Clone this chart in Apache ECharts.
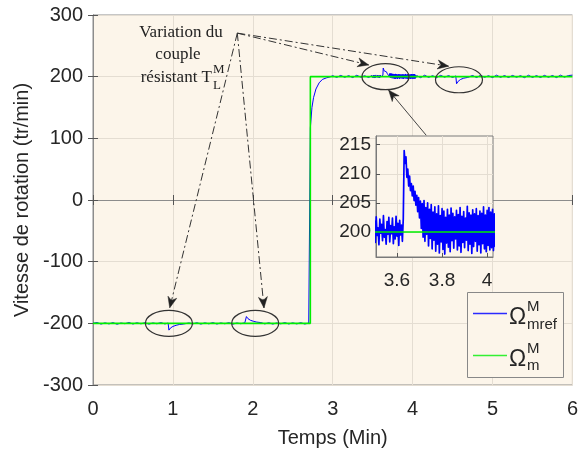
<!DOCTYPE html>
<html><head><meta charset="utf-8">
<script src="https://cdn.jsdelivr.net/npm/echarts@6/dist/echarts.min.js"></script>
<style>html,body{margin:0;padding:0;background:#fff}#c{width:581px;height:455px}</style>
</head><body><div id="c"></div>
<script>
// ---------- data ----------
const xTicksMain = [0,1,2,3,4,5,6];
const yTicksMain = [-300,-200,-100,0,100,200,300];
const xTicksInset = [3.6,3.8,4];
const yTicksInset = [200,205,210,215];

// reference speed Ω_m (green)
const greenRef = [[0,-200],[2.72,-200],[2.72,200],[6,200]];

// measured speed Ω_mref (blue), before the zoomed window
const blueStart = [[0,-200],[0.05,-198.8],[0.1,-201.2],[0.15,-199.3],[0.2,-200.9],[0.25,-198.9],[0.3,-201.4],[0.35,-199.5],[0.4,-200.6],[0.45,-198.7],[0.5,-201.1],[0.55,-199.2],[0.6,-200.8],[0.65,-199.0],[0.7,-201.3],[0.75,-199.4],[0.8,-200.7],[0.85,-198.9],[0.9,-201.0],[0.94,-199.6],[0.95,-211.0],[0.97,-207.5],[1.0,-205.0],[1.04,-203.2],[1.08,-201.9],[1.13,-201.2],[1.2,-199.4],[1.25,-200.9],[1.3,-199.1],[1.35,-201.2],[1.4,-199.3],[1.45,-200.8],[1.5,-198.9],[1.55,-201.1],[1.6,-199.4],[1.65,-200.7],[1.7,-199.0],[1.75,-201.3],[1.8,-199.5],[1.85,-200.6],[1.9,-199.2],[1.91,-200.3],[1.92,-189.0],[1.94,-192.5],[1.97,-195.0],[2.01,-196.8],[2.05,-198.0],[2.1,-198.8],[2.15,-200.9],[2.2,-199.1],[2.25,-201.2],[2.3,-199.4],[2.35,-200.8],[2.4,-198.9],[2.45,-201.0],[2.5,-199.3],[2.55,-200.9],[2.6,-199.0],[2.65,-201.1],[2.7,-199.6],[2.72,-200],[2.7201,117],[2.74,150],[2.76,166],[2.79,180],[2.83,190],[2.87,195.5],[2.92,198],[2.97,199.8],[3.0,201.5],[3.05,198.9],[3.1,202.0],[3.15,199.0],[3.2,201.6],[3.25,198.6],[3.3,202.2],[3.35,199.2],[3.4,201.4],[3.45,198.7],[3.49,201.9]];

// measured speed in the zoomed window, sampled every 0.004 from t=3.5
const blueDenseT0 = 3.5, blueDenseStep = 0.004;
const blueDense = [201.9,198.2,202.6,199.4,200.7,197.8,202.2,199.8,201.3,198.5,202.8,199.1,200.4,197.9,201.8,199.6,202.5,198.3,201.1,199.7,202.4,198.0,200.9,198.8,202.7,199.3,201.5,197.7,202.0,199.5,201.2,198.4,202.3,
214.0,
211.8,212.9,209.4,210.8,207.9,209.6,207.1,208.3,206.2,207.9,
205.4,207.0,204.6,206.3,203.5,205.9,202.4,205.3,200.6,204.9,
199.1,205.4,198.4,204.2,199.6,205.0,197.6,203.9,198.9,204.7,
197.1,203.4,198.6,204.3,196.7,203.1,197.9,204.5,196.4,202.8,
198.3,204.0,197.0,203.6,196.2,202.5,198.1,203.9,197.4,202.9,
196.6,204.1,198.5,203.2,197.2,202.6,198.8,203.7,196.9,203.0,
197.6,204.2,196.5,202.7,198.2,203.5,197.3,202.4,198.6,204.4,
196.8,203.3,197.9,202.9,196.3,203.8,197.5,203.1,198.4,204.0,
196.7,202.8,197.8,203.6,196.4,203.2,198.0,204.3,197.1,202.9,
196.6,203.7,197.7,204.2,196.9,203.4,197.3,203.9,196.8,203.1,197.5];

// measured speed after the zoomed window
const blueEnd = [[4.05,201.8],[4.1,198.4],[4.15,202.3],[4.2,198.9],[4.25,201.5],[4.3,198.5],[4.35,202.1],[4.4,199.2],[4.45,201.7],[4.5,198.7],[4.54,201.2],[4.55,188.5],[4.57,192.5],[4.6,195.5],[4.64,197.6],[4.69,198.8],[4.75,201.9],[4.8,198.6],[4.85,202.2],[4.9,199.0],[4.95,201.5],[5.0,198.5],[5.05,202.4],[5.1,198.9],[5.15,201.8],[5.2,198.6],[5.25,202.0],[5.3,199.1],[5.35,201.6],[5.4,198.4],[5.45,202.3],[5.5,198.8],[5.55,201.7],[5.6,198.6],[5.65,202.1],[5.7,199.0],[5.75,201.9],[5.8,198.5],[5.85,202.4],[5.9,199.2],[5.95,201.8],[6.0,202.5]];

// annotation anchors (data units)
const ellipseCenters = [[0.95,-200],[2.03,-200],[3.66,200],[4.58,195]];
const arrowOrigin = [1.806,270.6];
const arrowTips = [[0.96,-175],[2.14,-175],[3.45,219],[4.45,217]];
const solidArrow = [[4.17,105],[3.70,178]];

// ---------- build ----------
const blueAll = blueStart
  .concat(blueDense.map((v,i)=>[+(blueDenseT0 + i*blueDenseStep).toFixed(4), v]))
  .concat(blueEnd);

const FONT = "'Liberation Sans', Arial, Helvetica, sans-serif";
const SERIF = "'Liberation Serif', 'Times New Roman', serif";
const BG = '#fcf5ea';
const TXT = '#262626';
const BORDER = '#8c8c8c';
const BLUE = '#0000ff';
const GREEN = '#00ee00';

const chart = echarts.init(document.getElementById('c'), null, {renderer:'canvas'});

const mainAxisCommon = {
  axisLine:{show:true, lineStyle:{color:BORDER, width:1}},
  axisTick:{show:true, inside:true, length:5, lineStyle:{color:'#555'}},
};

chart.setOption({
  animation:false,
  backgroundColor:'#ffffff',
  grid:[
    {left:93, right:4, top:15, bottom:70, show:true, backgroundColor:BG, borderColor:BORDER, borderWidth:1, z:0},
    {left:376, top:136, width:117, height:121, show:true, backgroundColor:BG, borderColor:'#7a7a7a', borderWidth:1, z:10}
  ],
  xAxis:[
    Object.assign({gridIndex:0, type:'value', min:xTicksMain[0], max:xTicksMain[xTicksMain.length-1], interval:1,
      axisLabel:{fontSize:20, color:TXT, margin:14, fontFamily:FONT},
      splitLine:{show:true, lineStyle:{color:'#e4ddd2', width:1}},
      name:'Temps (Min)', nameLocation:'middle', nameGap:43,
      nameTextStyle:{fontSize:20, color:TXT, fontFamily:FONT}}, mainAxisCommon),
    Object.assign({gridIndex:0, type:'value', position:'top', min:xTicksMain[0], max:xTicksMain[xTicksMain.length-1], interval:1,
      axisLabel:{show:false}, splitLine:{show:false}}, mainAxisCommon),
    {gridIndex:1, type:'value', min:3.507, max:4.026, z:11,
      axisLine:{show:true, lineStyle:{color:'#7a7a7a'}},
      axisTick:{show:true, inside:true, length:4, customValues:xTicksInset, lineStyle:{color:'#555'}},
      axisLabel:{fontSize:19, color:TXT, margin:14, fontFamily:FONT, customValues:xTicksInset},
      splitLine:{show:true, lineStyle:{color:'#e4ddd2'}}}
  ],
  yAxis:[
    Object.assign({gridIndex:0, type:'value', min:yTicksMain[0], max:yTicksMain[yTicksMain.length-1], interval:100,
      axisLabel:{fontSize:20, color:TXT, margin:10, fontFamily:FONT},
      splitLine:{show:true, lineStyle:{color:'#e4ddd2', width:1}},
      name:'Vitesse de rotation (tr/min)', nameLocation:'middle', nameGap:60,
      nameTextStyle:{fontSize:20, color:TXT, fontFamily:FONT}}, mainAxisCommon),
    Object.assign({gridIndex:0, type:'value', position:'right', min:yTicksMain[0], max:yTicksMain[yTicksMain.length-1], interval:100,
      axisLabel:{show:false}, splitLine:{show:false}}, mainAxisCommon),
    {gridIndex:1, type:'value', min:195.7, max:216.5, z:11,
      axisLine:{show:true, lineStyle:{color:'#7a7a7a'}},
      axisTick:{show:true, inside:true, length:4, customValues:yTicksInset, lineStyle:{color:'#555'}},
      axisLabel:{fontSize:19, color:TXT, margin:5, fontFamily:FONT, customValues:yTicksInset},
      splitLine:{show:true, lineStyle:{color:'#e4ddd2'}}}
  ],
  series:[
    {name:'Ω mref', type:'line', xAxisIndex:0, yAxisIndex:0, data:blueAll, showSymbol:false, symbol:'none',
      lineStyle:{color:BLUE, width:1}, z:2},
    {name:'Ω m', type:'line', xAxisIndex:0, yAxisIndex:0, data:greenRef, showSymbol:false, symbol:'none',
      lineStyle:{color:GREEN, width:1.6}, z:3},
    {name:'Ω mref (zoom)', type:'line', xAxisIndex:2, yAxisIndex:2, data:blueAll, showSymbol:false, symbol:'none',
      lineStyle:{color:BLUE, width:1.7, join:'round'}, z:12},
    {name:'Ω m (zoom)', type:'line', xAxisIndex:2, yAxisIndex:2, data:greenRef, showSymbol:false, symbol:'none',
      lineStyle:{color:GREEN, width:1.6}, z:13}
  ]
});

// ---------- annotations ----------
const px = p => chart.convertToPixel({xAxisIndex:0, yAxisIndex:0}, p);
function arrowHead(tip, from, color){
  const dx = tip[0]-from[0], dy = tip[1]-from[1];
  const L = Math.hypot(dx,dy), ux = dx/L, uy = dy/L;
  const len = 11, hw = 4.5;
  const bx = tip[0]-ux*len, by = tip[1]-uy*len;
  const nx = tip[0]-ux*len*0.7, ny = tip[1]-uy*len*0.7;
  return {type:'polygon', z:50, shape:{points:[tip,[bx-uy*hw, by+ux*hw],[nx,ny],[bx+uy*hw, by-ux*hw]]},
    style:{fill:color, stroke:color, lineWidth:0.5}};
}
const g = [];
ellipseCenters.forEach(c=>{
  const p = px(c);
  g.push({type:'ellipse', z:40, shape:{cx:p[0], cy:p[1], rx:23.5, ry:13}, style:{fill:null, stroke:'#333', lineWidth:1.2}});
});
const o = px(arrowOrigin);
arrowTips.forEach(t=>{
  const p = px(t);
  g.push({type:'line', z:45, shape:{x1:o[0], y1:o[1], x2:p[0], y2:p[1]}, style:{stroke:'#333', lineWidth:1, lineDash:[8,3,2,3]}});
  g.push(arrowHead(p, o, '#222'));
});
const s0 = px(solidArrow[0]), s1 = px(solidArrow[1]);
g.push({type:'line', z:45, shape:{x1:s0[0], y1:s0[1], x2:s1[0], y2:s1[1]}, style:{stroke:'#444', lineWidth:1}});
g.push(arrowHead(s1, s0, '#222'));

// annotation text
g.push({type:'text', z:60, x:181, y:33, style:{text:'Variation du', font:'17px '+SERIF, fill:'#222', align:'center', verticalAlign:'middle'}});
g.push({type:'text', z:60, x:178, y:55, style:{text:'couple', font:'17px '+SERIF, fill:'#222', align:'center', verticalAlign:'middle'}});
g.push({type:'text', z:60, x:212, y:78, style:{text:'résistant T', font:'17px '+SERIF, fill:'#222', align:'right', verticalAlign:'middle'}});
g.push({type:'text', z:60, x:213, y:70, style:{text:'M', font:'13px '+SERIF, fill:'#222', align:'left', verticalAlign:'middle'}});
g.push({type:'text', z:60, x:213, y:86, style:{text:'L', font:'13px '+SERIF, fill:'#222', align:'left', verticalAlign:'middle'}});

// legend
g.push({type:'rect', z:70, shape:{x:467.5, y:292.5, width:96, height:85}, style:{fill:BG, stroke:'#888', lineWidth:1}});
g.push({type:'line', z:71, shape:{x1:473, y1:313.5, x2:507, y2:313.5}, style:{stroke:'#2a2aff', lineWidth:1.3}});
g.push({type:'line', z:71, shape:{x1:473, y1:355.5, x2:507, y2:355.5}, style:{stroke:'#33f033', lineWidth:1.6}});
[[318,'M','mref',307,325],[360,'M','m',349,366]].forEach(r=>{
  g.push({type:'text', z:72, x:509, y:r[0], style:{text:'Ω', font:'23px '+FONT, fill:TXT, align:'left', verticalAlign:'middle'}});
  g.push({type:'text', z:72, x:527, y:r[3], style:{text:r[1], font:'15px '+FONT, fill:TXT, align:'left', verticalAlign:'middle'}});
  g.push({type:'text', z:72, x:527, y:r[4], style:{text:r[2], font:'15px '+FONT, fill:TXT, align:'left', verticalAlign:'middle'}});
});
chart.setOption({graphic:g});
</script>
</body></html>
